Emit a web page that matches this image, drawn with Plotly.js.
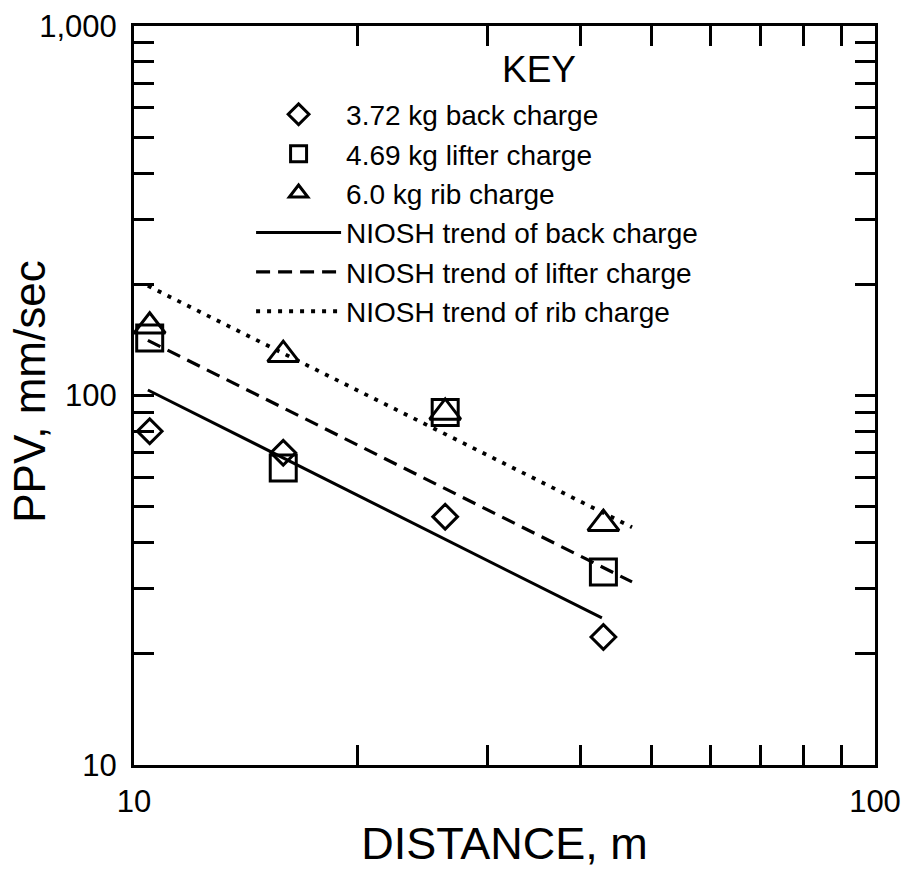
<!DOCTYPE html>
<html>
<head>
<meta charset="utf-8">
<script src="https://cdn.plot.ly/plotly-3.0.1.min.js"></script>
<style>html,body{margin:0;padding:0;background:#fff;}#chart{width:904px;height:871px;}</style>
</head>
<body>
<div id="chart"></div>
<script>
// Data (distance in m, PPV in mm/sec)
const distance = [10.5, 15.9, 26.3, 43.0];
const backPPV = [80, 70, 47, 22.2];
const lifterPPV = [143, 63.6, 90, 33.3];
const ribPPV = [154, 129, 90, 45];

const trendBackX = [10.44, 42.8];
const trendBackY = [103.5, 25.0];
const trendLifterX = [10.44, 47.0];
const trendLifterY = [141, 31.3];
const trendRibX = [10.44, 47.0];
const trendRibY = [198, 44];

const seriesNames = [
  '3.72 kg back charge',
  '4.69 kg lifter charge',
  '6.0 kg rib charge',
  'NIOSH trend of back charge',
  'NIOSH trend of lifter charge',
  'NIOSH trend of rib charge'
];
const legendTitle = 'KEY';

const xTickVals = [10, 20, 30, 40, 50, 60, 70, 80, 90, 100];
const xTickText = ['10', '', '', '', '', '', '', '', '', '100'];
const yTickVals = [10, 20, 30, 40, 50, 60, 70, 80, 90, 100, 200, 300, 400, 500, 600, 700, 800, 900, 1000];
const yTickText = ['10', '', '', '', '', '', '', '', '', '100', '', '', '', '', '', '', '', '', '1,000'];

const FONT = 'Liberation Sans, Arial, sans-serif';
const black = '#000';

const markerTrace = (y, name, symbol, size) => ({
  x: distance, y: y, name: name, type: 'scatter', mode: 'markers',
  marker: {symbol: symbol, size: size, color: black, line: {color: black, width: 3}},
  cliponaxis: false
});
const lineTrace = (x, y, name, dash, width) => ({
  x: x, y: y, name: name, type: 'scatter', mode: 'lines',
  line: {color: black, width: width, dash: dash}
});

const data = [
  markerTrace(backPPV, seriesNames[0], 'diamond-open', 19),
  markerTrace(lifterPPV, seriesNames[1], 'square-open', 26),
  markerTrace(ribPPV, seriesNames[2], 'triangle-up-open', 27),
  lineTrace(trendBackX, trendBackY, seriesNames[3], 'solid', 3),
  lineTrace(trendLifterX, trendLifterY, seriesNames[4], '14px,8px', 3.2),
  lineTrace(trendRibX, trendRibY, seriesNames[5], '4px,7px', 3.8)
];

const axisCommon = {
  type: 'log', showgrid: false, zeroline: false,
  showline: true, linecolor: black, linewidth: 3, mirror: 'ticks',
  ticks: 'inside', ticklen: 20, tickwidth: 3, tickcolor: black,
  tickmode: 'array',
  tickfont: {family: FONT, size: 31, color: black}
};

const layout = {
  width: 904, height: 871,
  margin: {l: 134, r: 29, t: 26, b: 106, autoexpand: false},
  paper_bgcolor: '#fff', plot_bgcolor: '#fff',
  font: {family: FONT, color: black},
  showlegend: true,
  xaxis: Object.assign({}, axisCommon, {
    range: [1, 2], tickvals: xTickVals, ticktext: xTickText,
    ticklabelstandoff: 7,
    title: {text: 'DISTANCE, m', font: {family: FONT, size: 45, color: black}, standoff: 10}
  }),
  yaxis: Object.assign({}, axisCommon, {
    range: [1, 3], tickvals: yTickVals, ticktext: yTickText,
    ticklabelstandoff: 8
  }),
  legend: {
    x: 0.158, xanchor: 'left', y: 0.914, yanchor: 'top',
    bgcolor: 'rgba(0,0,0,0)', borderwidth: 0,
    font: {family: FONT, size: 28, color: black},
    itemwidth: 85, traceorder: 'normal', tracegroupgap: 0
  },
  annotations: [
    {
      text: 'PPV, mm/sec', textangle: -90,
      xref: 'paper', yref: 'paper', x: -0.1404, y: 0.505,
      xanchor: 'center', yanchor: 'middle', showarrow: false,
      font: {family: FONT, size: 44, color: black}
    },
    {
      text: legendTitle,
      xref: 'paper', yref: 'paper', x: 0.5466, y: 0.9405,
      xanchor: 'center', yanchor: 'middle', showarrow: false,
      font: {family: FONT, size: 37, color: black}
    }
  ]
};

Plotly.newPlot('chart', data, layout, {staticPlot: true, displayModeBar: false});
</script>
</body>
</html>
